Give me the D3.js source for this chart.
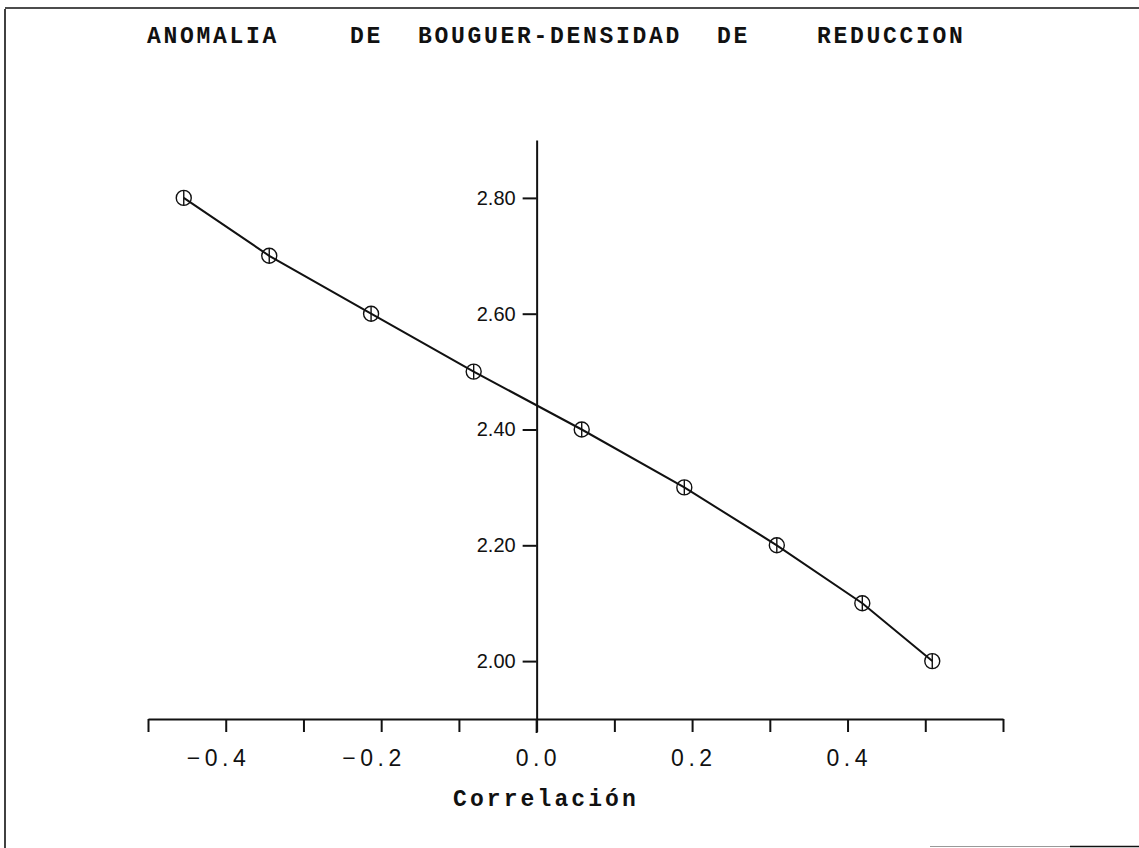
<!DOCTYPE html>
<html><head><meta charset="utf-8">
<script src="https://cdn.jsdelivr.net/npm/d3@7"></script>
<style>
html,body{margin:0;padding:0;background:#fff;}
svg{display:block;}
</style></head>
<body>
<svg id="chart" width="1139" height="848"></svg>
<script>
// ---- data ----
const titleWords = ["ANOMALIA", "DE", "BOUGUER-DENSIDAD", "DE", "REDUCCION"];
const xLabel = "Correlación";
const correlation = [-0.454, -0.344, -0.213, -0.081, 0.058, 0.190, 0.309, 0.419, 0.509];
const density = [2.80, 2.70, 2.60, 2.50, 2.40, 2.30, 2.20, 2.10, 2.00];
const xTicks = [-0.5, -0.4, -0.3, -0.2, -0.1, 0.0, 0.1, 0.2, 0.3, 0.4, 0.5, 0.6];
const xTickLabels = [-0.4, -0.2, 0.0, 0.2, 0.4];
const yTicks = [2.00, 2.20, 2.40, 2.60, 2.80];

// ---- layout ----
const svg = d3.select("#chart");
const x = d3.scaleLinear().domain([-0.5, 0.6]).range([148, 1003]);
const y = d3.scaleLinear().domain([1.9, 2.9]).range([719, 140]);
const ink = "#111";
const monoFont = "'Liberation Mono', 'DejaVu Sans Mono', monospace";
const sansFont = "'Liberation Sans', Arial, sans-serif";

// frame
svg.append("line").attr("x1", 5).attr("x2", 5).attr("y1", 9).attr("y2", 848).attr("stroke", ink).attr("stroke-width", 1.6);
svg.append("line").attr("x1", 5).attr("x2", 1139).attr("y1", 8).attr("y2", 8).attr("stroke", ink).attr("stroke-width", 1.4);
svg.append("line").attr("x1", 930).attr("x2", 1070).attr("y1", 846.5).attr("y2", 846.5).attr("stroke", "#999").attr("stroke-width", 1);
svg.append("line").attr("x1", 1070).attr("x2", 1139).attr("y1", 846.5).attr("y2", 846.5).attr("stroke", ink).attr("stroke-width", 1.4);

// title
const wordX = [147, 350, 418, 717, 817];
svg.append("g").selectAll("text").data(titleWords).join("text")
  .attr("x", (d, i) => wordX[i]).attr("y", 43)
  .attr("font-family", monoFont).attr("font-weight", "bold")
  .attr("font-size", 23).attr("letter-spacing", 2.7).attr("fill", ink)
  .text(d => d);

// x axis
const gx = svg.append("g").attr("transform", `translate(0,${y(1.9)})`)
  .call(d3.axisBottom(x).tickValues(xTicks).tickSize(13).tickSizeOuter(0).tickFormat(() => ""));
gx.select(".domain").attr("stroke", ink).attr("stroke-width", 2);
gx.selectAll(".tick line").attr("stroke", ink).attr("stroke-width", 2);

// x tick labels: unsigned part centred on the tick, minus hanging to the left
svg.append("g").selectAll("text").data(xTickLabels).join("text")
  .attr("x", d => x(d) + 24.5).attr("y", 766)
  .attr("text-anchor", "end")
  .attr("font-family", sansFont).attr("font-size", 23).attr("letter-spacing", 4.5).attr("fill", ink)
  .text(d => (d < 0 ? "\u2212" : "") + d3.format(".1f")(Math.abs(d)));

// y axis at x = 0
const gy = svg.append("g").attr("transform", `translate(${x(0)},0)`)
  .call(d3.axisLeft(y).tickValues(yTicks).tickSize(14).tickSizeOuter(0).tickPadding(7).tickFormat(d3.format(".2f")));
gy.select(".domain").attr("stroke", ink).attr("stroke-width", 2);
gy.selectAll(".tick line").attr("stroke", ink).attr("stroke-width", 2);
gy.selectAll(".tick text").attr("font-family", sansFont)
  .attr("font-size", 20).attr("fill", ink);
svg.append("line").attr("x1", x(0)).attr("x2", x(0)).attr("y1", y(1.9)).attr("y2", y(1.9) + 14)
  .attr("stroke", ink).attr("stroke-width", 2);

// x axis title
svg.append("text").attr("x", 453).attr("y", 806)
  .attr("font-family", monoFont).attr("font-weight", "bold")
  .attr("font-size", 23).attr("letter-spacing", 3.1).attr("fill", ink).text(xLabel);

// line
const pts = correlation.map((c, i) => [c, density[i]]);
svg.append("path").datum(pts)
  .attr("d", d3.line().x(d => x(d[0])).y(d => y(d[1])))
  .attr("fill", "none").attr("stroke", ink).attr("stroke-width", 2);

// markers
const mk = svg.append("g").selectAll("g").data(pts).join("g")
  .attr("transform", d => `translate(${x(d[0])},${y(d[1])})`);
mk.append("circle").attr("r", 7.5).attr("fill", "none").attr("stroke", ink).attr("stroke-width", 1.4);
mk.append("line").attr("x1", 0).attr("x2", 0).attr("y1", -7.5).attr("y2", 7.5).attr("stroke", ink).attr("stroke-width", 1.4);
</script>
</body></html>
